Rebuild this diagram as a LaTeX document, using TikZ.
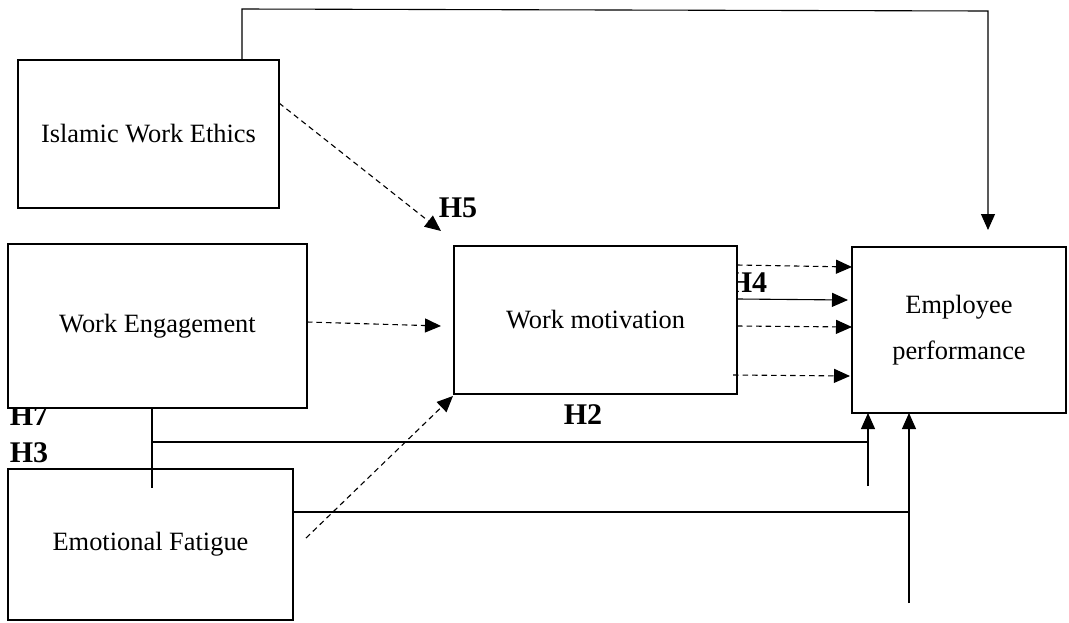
\documentclass[tikz,border=0pt]{standalone}
\usepackage{fontspec}
\setmainfont{Liberation Serif}
\usetikzlibrary{arrows.meta,calc}
\begin{document}
\begin{tikzpicture}[x=1pt,y=-1pt,
  box/.style={draw,line width=2.5pt,fill=white,inner sep=0pt,align=center,
    font=\fontsize{26.4}{46}\selectfont},
  hlab/.style={inner sep=0pt,font=\fontsize{30}{32}\selectfont\bfseries},
  conn/.style={line width=1.1pt},
  dconn/.style={conn,dash pattern=on 5.5pt off 4pt},
  tip/.style={-{Triangle[length=16pt,width=14pt]}}
]
\useasboundingbox (0,0) rectangle (1069,622);

% labels partly hidden behind boxes
\node[hlab] (h7) at (29,416) {H7};
\node[hlab] (h4) at (748,283) {H4};

% boxes
\node[box,minimum width=261pt,minimum height=148pt] (iwe) at (148.5,134) {Islamic Work Ethics};
\node[box,minimum width=299pt,minimum height=164pt] (we) at (157.5,326) {Work Engagement};
\node[box,minimum width=285pt,minimum height=151pt] (ef) at (150.5,544.5) {Emotional Fatigue};
\node[box,minimum width=283pt,minimum height=148pt] (wm) at (595.5,320) {Work motivation};
\node[box,minimum width=214pt,minimum height=166pt] (ep) at (959,330) {Employee\\performance};

% other labels
\node[hlab] (h5) at (458,208) {H5};
\node[hlab] (h2) at (583,415) {H2};
\node[hlab] (h3) at (29,453) {H3};

% free ends
\coordinate (topl) at (242,9);
\coordinate (topr) at (988,11);
\coordinate (eptip) at (988,230);
\coordinate (iwes) at (279,103);
\coordinate (iwee) at (441,231);
\coordinate (wes) at (307,322);
\coordinate (wee) at (441,326);
\coordinate (efs) at (306,538);
\coordinate (efe) at (453,396);
\coordinate (r1s) at (737,265);
\coordinate (r1e) at (852,267);
\coordinate (r2s) at (738,299);
\coordinate (r2e) at (848,300);
\coordinate (r3s) at (737,326);
\coordinate (r3e) at (852,327);
\coordinate (r4s) at (733,375);
\coordinate (r4e) at (850,376);
\coordinate (wedown) at (152,488);
\coordinate (j1) at (152,442);
\coordinate (j1r) at (868,442);
\coordinate (v1b) at (868,486);
\coordinate (v1t) at (868,413);
\coordinate (j2r) at (909,512);
\coordinate (v2b) at (909,603);
\coordinate (v2t) at (909,413);

% top connector
\draw[conn,tip] (iwe.north -| topl) -- (topl) -- (topr) -- (eptip);

% dashed connectors to work motivation
\draw[dconn,tip] (iwes) -- (iwee);
\draw[dconn,tip] (wes) -- (wee);
\draw[dconn,tip] (efs) -- (efe);

% work motivation to employee performance
\draw[dconn,tip] (r1s) -- (r1e);
\draw[conn,tip] (r2s) -- (r2e);
\draw[dconn,tip] (r3s) -- (r3e);
\draw[dconn,tip] (r4s) -- (r4e);

% lower solid connectors
\draw[conn] (we.south -| wedown) -- (wedown);
\draw[conn] (j1) -- (j1r);
\draw[conn,tip] (v1b) -- (v1t);
\draw[conn] (ef.east |- j2r) -- (j2r);
\draw[conn,tip] (v2b) -- (v2t);
\end{tikzpicture}
\end{document}
